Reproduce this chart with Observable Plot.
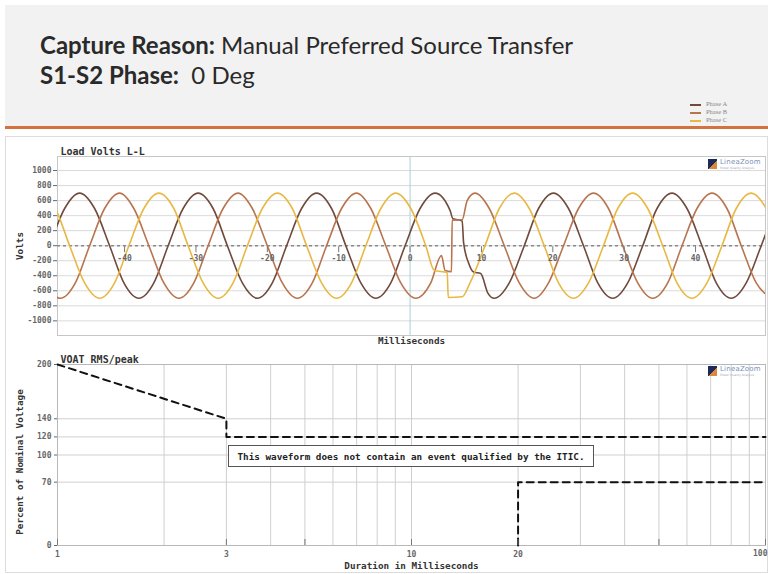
<!DOCTYPE html>
<html><head><meta charset="utf-8">
<script src="https://cdn.jsdelivr.net/npm/d3@7"></script>
<script src="https://cdn.jsdelivr.net/npm/@observablehq/plot@0.6"></script>
<style>
body{margin:0;background:#fff;width:768px;height:574px;position:relative;overflow:hidden;font-family:Lato,"Open Sans",sans-serif}
#header{position:absolute;left:5px;top:5px;width:763px;height:121px;background:#f2f2f2}
#rule{position:absolute;left:5px;top:126px;width:763px;height:3px;background:#d4723f}
.t{position:absolute;left:40px;font-size:24px;color:#2a2a2a;white-space:pre}
.t b{font-weight:700}
#legend{position:absolute;left:690px;top:100px;font-family:"Liberation Serif",serif;font-size:6.5px;color:#888;line-height:8px}
#legend div{white-space:nowrap}
#legend .sw{display:inline-block;width:11px;height:2px;margin-right:5px;vertical-align:middle}
#panel{position:absolute;left:5px;top:136px;width:761px;height:435px;border:1px solid #dcdcdc}
#top{position:absolute;left:0;top:138px}
#bot{position:absolute;left:0;top:348px}
#note{position:absolute;left:228px;top:445px;width:364px;height:20px;border:1.5px solid #555;background:#fff;font:bold 9.3px "DejaVu Sans Mono",monospace;color:#222;display:flex;align-items:center;justify-content:center;white-space:pre}
.logo{position:absolute;left:708px;width:58px;height:13px;font-family:"DejaVu Sans",sans-serif}
.logo .ic{position:absolute;left:0;top:1px;width:9px;height:10px;background:linear-gradient(135deg,#1d2a5a 55%,#d88a3a 56%)}
.logo .tx{position:absolute;left:12px;top:0;font-size:7px;color:#7b8fb8;letter-spacing:0.2px}
.logo .sub{position:absolute;left:12px;top:8px;font-size:3px;color:#a0a8c0}
</style>
</head><body>
<div id="header"></div>
<div id="rule"></div>
<div class="t" style="top:30px"><b>Capture Reason:</b> Manual Preferred Source Transfer</div>
<div class="t" style="top:60px"><b>S1-S2 Phase:</b>  0 Deg</div>
<div id="legend"></div>
<div id="panel"></div>
<div id="top"></div>
<div id="bot"></div>
<div id="note"></div>
<div class="logo" style="top:158px"><div class="ic"></div><div class="tx">LineaZoom</div><div class="sub">Power Quality Analysis</div></div>
<div class="logo" style="top:365px"><div class="ic"></div><div class="tx">LineaZoom</div><div class="sub">Power Quality Analysis</div></div>
<script>
// ---------- data ----------
const phaseNames = ["Phase A", "Phase B", "Phase C"];
const phaseColors = ["#6f4a3d", "#b8744f", "#e8b844"];

// [milliseconds, volts]
const phaseA = [[-50.5,0],[-48.4,495],[-46.3,700],[-44.2,495],[-42.1,0],[-40.1,-495],[-38.0,-700],[-35.9,-495],[-33.9,0],[-31.8,495],[-29.7,700],[-27.6,495],[-25.6,0],[-23.5,-495],[-21.4,-700],[-19.3,-495],[-17.3,0],[-15.2,495],[-13.1,700],[-11.0,495],[-9.0,0],[-6.9,-495],[-4.8,-700],[-2.7,-495],[-0.7,0],[1.4,495],[3.5,700],[5.6,470],[6.0,360],[7.3,330],[7.5,40],[8.2,-230],[8.9,-350],[9.9,-370],[10.9,-630],[11.8,-700],[13.9,-495],[16.0,0],[18.0,495],[20.1,700],[22.2,495],[24.3,0],[26.3,-495],[28.4,-700],[30.5,-495],[32.6,0],[34.6,495],[36.7,700],[38.8,495],[40.9,0],[42.9,-495],[45.0,-700],[47.1,-495],[49.2,0],[51.2,495]];
const phaseB = [[-51.1,-495],[-49.0,-700],[-46.9,-495],[-44.9,0],[-42.8,495],[-40.7,700],[-38.7,495],[-36.6,0],[-34.5,-495],[-32.4,-700],[-30.3,-495],[-28.3,0],[-26.2,495],[-24.1,700],[-22.1,495],[-20.0,0],[-17.9,-495],[-15.8,-700],[-13.7,-495],[-11.7,0],[-9.6,495],[-7.5,700],[-5.5,495],[-3.4,0],[-1.3,-495],[0.8,-700],[2.9,-495],[4.4,-130],[4.9,-330],[5.8,-345],[5.9,340],[7.3,345],[8.0,600],[9.1,700],[11.1,495],[13.2,0],[15.3,-495],[17.4,-700],[19.4,-495],[21.5,0],[23.6,495],[25.7,700],[27.8,495],[29.8,0],[31.9,-495],[34.0,-700],[36.1,-495],[38.1,0],[40.2,495],[42.3,700],[44.4,495],[46.4,0],[48.5,-495],[50.6,-700]];
const phaseC = [[-51.8,700],[-49.7,495],[-47.7,0],[-45.6,-495],[-43.5,-700],[-41.4,-495],[-39.4,0],[-37.3,495],[-35.2,700],[-33.1,495],[-31.1,0],[-29.0,-495],[-26.9,-700],[-24.8,-495],[-22.8,0],[-20.7,495],[-18.6,700],[-16.5,495],[-14.5,0],[-12.4,-495],[-10.3,-700],[-8.2,-495],[-6.2,0],[-4.1,495],[-2.0,700],[0.1,495],[2.2,0],[3.4,-330],[5.2,-355],[5.35,-690],[7.3,-680],[8.4,-495],[10.5,0],[12.5,495],[14.6,700],[16.7,495],[18.8,0],[20.8,-495],[22.9,-700],[25.0,-495],[27.1,0],[29.1,495],[31.2,700],[33.3,495],[35.4,0],[37.4,-495],[39.5,-700],[41.6,-495],[43.7,0],[45.7,495],[47.8,700],[49.9,495],[52.0,0]];

const voltTicks = [1000, 800, 600, 400, 200, 0, -200, -400, -600, -800, -1000];
const msTicks = [-40, -30, -20, -10, 0, 10, 20, 30, 40];

// ITIC curve (duration ms, percent of nominal)
const iticUpperMs = [1, 3, 3, 100];
const iticUpperPct = [200, 140, 120, 120];
const iticLowerMs = [20, 20, 100];
const iticLowerPct = [0, 70, 70];
const pctTicks = [200, 140, 120, 100, 70, 0];
const durTicks = [1, 3, 5, 10, 20, 50, 100];
const durGrid = [1,2,3,4,5,6,7,8,9,10,20,30,40,50,60,70,80,90,100];
const noteText = "This waveform does not contain an event qualified by the ITIC.";

// ---------- legend ----------
const leg = document.getElementById("legend");
phaseNames.forEach((n, i) => {
  const d = document.createElement("div");
  d.innerHTML = `<span class="sw" style="background:${phaseColors[i]}"></span>${n}`;
  leg.appendChild(d);
});
document.getElementById("note").textContent = noteText;

const mono = "DejaVu Sans Mono, monospace";
const phases = [phaseA, phaseB, phaseC];

// ---------- top chart ----------
const topChart = Plot.plot({
  width: 768, height: 212,
  marginLeft: 57, marginRight: 3, marginTop: 18, marginBottom: 15,
  x: {domain: [-49.4, 49.8], axis: null},
  y: {domain: [-1195, 1187], axis: null},
  style: {fontFamily: mono, background: "transparent", overflow: "visible"},
  marks: [
    Plot.gridY(voltTicks, {stroke: "#dadada", strokeOpacity: 1}),
    Plot.frame({stroke: "#c6c6c6"}),
    Plot.ruleX([0], {stroke: "#a6d2d6"}),
    Plot.ruleY([0], {stroke: "#8a8a8a", strokeDasharray: "3,3", strokeWidth: 1.6}),
    ...phases.map((p, i) => Plot.line(p, {x: d => d[0], y: d => d[1], stroke: phaseColors[i], strokeWidth: 1.6, curve: "monotone-x", clip: true})),
    Plot.ruleX(msTicks, {x: d => d, y1: d => 0, y2: d => 0, insetTop: 1, insetBottom: -7, stroke: "#777"}),
    Plot.text(msTicks, {x: d => d, y: d => 0, dy: 13, text: d => String(d), fontSize: 8, fontWeight: "bold", fill: "#666"}),
    Plot.axisY(voltTicks, {tickSize: 4, tickPadding: 2, fontSize: 8, fontWeight: "bold", color: "#666", tickFormat: d => String(d), label: null}),
    Plot.text(["Load Volts L-L"], {frameAnchor: "top-left", dx: 3, dy: -9, textAnchor: "start", fontSize: 10, fontWeight: "bold", fill: "#333"}),
    Plot.text(["Milliseconds"], {frameAnchor: "bottom", dy: 8, fontSize: 9.3, fontWeight: "bold", fill: "#333"}),
    Plot.text(["Volts"], {frameAnchor: "left", dx: -37, rotate: -90, textAnchor: "middle", fontSize: 9.3, fontWeight: "bold", fill: "#333"})
  ]
});
document.getElementById("top").appendChild(topChart);

// ---------- bottom chart ----------
const iticUpper = iticUpperMs.map((m, i) => ({ms: m, pct: iticUpperPct[i]}));
const iticLower = iticLowerMs.map((m, i) => ({ms: m, pct: iticLowerPct[i]}));
const lastDur = durTicks.slice(-1);
const botChart = Plot.plot({
  width: 768, height: 226,
  marginLeft: 57, marginRight: 3, marginTop: 16, marginBottom: 29,
  x: {type: "log", domain: [1, 100], axis: null},
  y: {domain: [0, 200], axis: null},
  style: {fontFamily: mono, background: "transparent", overflow: "visible"},
  marks: [
    Plot.gridX(durGrid, {stroke: "#cfcfcf", strokeOpacity: 1}),
    Plot.gridY(pctTicks, {stroke: "#cfcfcf", strokeOpacity: 1}),
    Plot.frame({stroke: "#b8b8b8"}),
    Plot.line(iticUpper, {x: "ms", y: "pct", stroke: "#111", strokeWidth: 2, strokeDasharray: "7,5"}),
    Plot.line(iticLower, {x: "ms", y: "pct", stroke: "#111", strokeWidth: 2, strokeDasharray: "7,5"}),
    Plot.ruleX(durTicks, {x: d => d, y1: d => 0, y2: d => 0, insetTop: -6, stroke: "#777"}),
    Plot.axisY(pctTicks, {tickSize: 3, tickPadding: 3, fontSize: 8, fontWeight: "bold", color: "#666", label: null}),
    Plot.axisX(durTicks.slice(0, -1), {tickSize: 0, tickPadding: 6, fontSize: 8, fontWeight: "bold", color: "#666", tickFormat: d => String(d), label: null}),
    Plot.text(lastDur, {x: d => d, frameAnchor: "bottom", dy: 10, dx: 2, textAnchor: "end", text: d => String(d), fontSize: 8, fontWeight: "bold", fill: "#666"}),
    Plot.text(["VOAT RMS/peak"], {frameAnchor: "top-left", dx: 3, dy: -9, textAnchor: "start", fontSize: 10, fontWeight: "bold", fill: "#333"}),
    Plot.text(["Duration in Milliseconds"], {frameAnchor: "bottom", dy: 23, fontSize: 9.3, fontWeight: "bold", fill: "#333"}),
    Plot.text(["Percent of Nominal Voltage"], {frameAnchor: "left", dx: -37, dy: 7, rotate: -90, textAnchor: "middle", fontSize: 9.3, fontWeight: "bold", fill: "#333"})
  ]
});
document.getElementById("bot").appendChild(botChart);
</script>
</body></html>
